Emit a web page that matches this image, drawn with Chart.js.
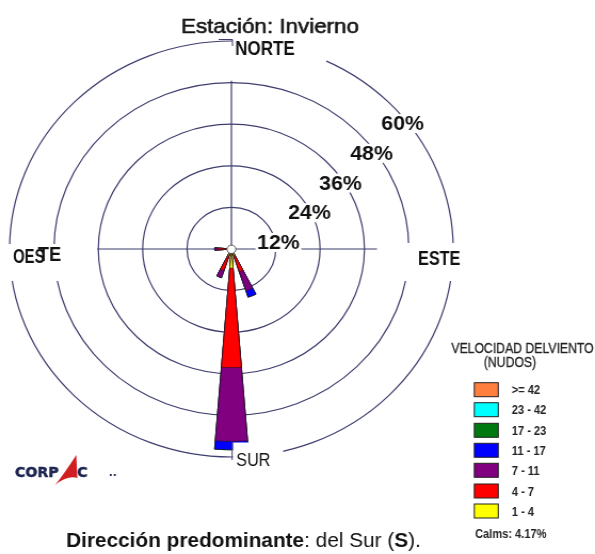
<!DOCTYPE html>
<html>
<head>
<meta charset="utf-8">
<script src="https://cdn.jsdelivr.net/npm/chart.js@4.4.1/dist/chart.umd.min.js"></script>
<style>
  html, body { margin: 0; padding: 0; background: #fff; overflow: hidden; }
  #lienzo { position: absolute; left: 0; top: 0; width: 558px; height: 554px;
            transform: scaleX(1.0663); transform-origin: 0 0; }
  canvas { display: block; }
</style>
</head>
<body>
<div id="lienzo"><canvas id="rosa" width="558" height="554"></canvas></div>
<script>
// Rosa de vientos - Estación: Invierno
const direcciones = ['N', 'NNE', 'NE', 'ENE', 'E', 'ESE', 'SE', 'SSE',
                     'S', 'SSW', 'SW', 'WSW', 'W', 'WNW', 'NW', 'NNW'];
const rangos  = ['1 - 4', '4 - 7', '7 - 11', '11 - 17', '17 - 23', '23 - 42', '>= 42'];
const colores = ['#ffff00', '#ff0000', '#800080', '#0000ff', '#007a10', '#00ffff', '#ff7f3f'];

// Frecuencia (%) por dirección para cada rango de velocidad (nudos)
const v1a4   = [0, 0, 0, 0, 0, 0, 0, 2.0, 5.5, 2.0, 0, 0, 0.8, 0, 0, 0];
const v4a7   = [0, 0, 0, 0, 0, 0, 0, 4.9, 28.7, 4.5, 0, 0, 2.8, 0, 0, 0];
const v7a11  = [0, 0, 0, 0, 0, 0, 0, 5.8, 21.3, 2.2, 0, 0, 0.9, 0, 0, 0];
const v11a17 = [0, 0, 0, 0, 0, 0, 0, 1.9, 2.4, 0, 0, 0, 0, 0, 0, 0];
const v17a23 = [0, 0, 0, 0, 0, 0, 0, 0, 0, 0, 0, 0, 0, 0, 0, 0];
const v23a42 = [0, 0, 0, 0, 0, 0, 0, 0, 0, 0, 0, 0, 0, 0, 0, 0];
const v42mas = [0, 0, 0, 0, 0, 0, 0, 0, 0, 0, 0, 0, 0, 0, 0, 0];

const anillos = [12, 24, 36, 48, 60];   // círculos de frecuencia (%)
const calmas = 4.17;

const bandas = [v1a4, v4a7, v7a11, v11a17, v17a23, v23a42, v42mas];

// Cada dirección ocupa un pétalo de 9° seguido de un hueco de 13.5°
const ANCHO_PETALO = 9;
const HUECO = 360 / direcciones.length - ANCHO_PETALO;
const etiquetas = [];
direcciones.forEach(d => { etiquetas.push(d); etiquetas.push(''); });

// Pétalos apilados: cada conjunto llega hasta la suma acumulada de su rango
let acumulado = direcciones.map(() => 0);
const conjuntos = bandas.map((serie, b) => {
  acumulado = acumulado.map((a, i) => a + serie[i]);
  const datos = [];
  acumulado.forEach(v => { datos.push(+v.toFixed(2)); datos.push(0); });
  return {
    label: rangos[b],
    data: datos,
    backgroundColor: colores[b],
    borderColor: 'rgba(20,20,20,0.75)',
    borderWidth: c => (c.raw > 0 ? 0.7 : 0),
    angle: c => (c.dataIndex % 2 === 0 ? ANCHO_PETALO : HUECO)
  };
});

const FUENTE = '"Liberation Sans", Arial, sans-serif';

function texto(ctx, str, x, y, o) {
  ctx.save();
  ctx.translate(x, y);
  ctx.scale(o.sx || 1, 1);
  ctx.font = `${o.weight || 'normal'} ${o.size}px ${o.family || FUENTE}`;
  ctx.fillStyle = o.color || '#111';
  ctx.textAlign = o.align || 'left';
  ctx.textBaseline = 'alphabetic';
  ctx.fillText(str, 0, 0);
  if (o.grosor) {
    ctx.lineWidth = o.grosor;
    ctx.strokeStyle = o.color || '#111';
    ctx.strokeText(str, 0, 0);
  }
  const w = ctx.measureText(str).width * (o.sx || 1);
  ctx.restore();
  return w;
}

const COLOR_REJILLA = '#3d3d6e';

const extrasRosa = {
  id: 'extrasRosa',
  beforeDatasetsDraw(chart) {
    const ctx = chart.ctx, s = chart.scales.r;
    const cx = s.xCenter, cy = s.yCenter;
    const d = v => s.getDistanceFromCenterForValue(v);
    ctx.save();
    ctx.strokeStyle = COLOR_REJILLA;
    ctx.lineWidth = 1.2;
    ctx.beginPath();
    ctx.moveTo(cx, cy - d(48.5)); ctx.lineTo(cx, cy + d(48));
    ctx.moveTo(cx - d(36.3), cy); ctx.lineTo(cx + d(39.4), cy);
    ctx.stroke();
    ctx.restore();
  },
  afterDraw(chart) {
    const ctx = chart.ctx, s = chart.scales.r;
    const cx = s.xCenter, cy = s.yCenter;
    const d = v => s.getDistanceFromCenterForValue(v);
    const R = d(60);
    ctx.save();

    // círculo central de calmas
    ctx.beginPath();
    ctx.arc(cx, cy + 0.3, 4.2, 0, Math.PI * 2);
    ctx.fillStyle = '#fff';
    ctx.fill();
    ctx.lineWidth = 1;
    ctx.strokeStyle = '#555';
    ctx.stroke();

    // fondos blancos de los rótulos cardinales
    ctx.fillStyle = '#fff';
    ctx.fillRect(cx + 1, cy - R - 3, 88, 24);          // NORTE
    ctx.fillRect(cx + 1.5, cy + R - 14.5, 47, 30);       // SUR
    ctx.fillRect(0, cy - 5, 66, 37);                    // OESTE
    ctx.fillRect(cx + 158, cy - 6, 66, 38);             // ESTE

    // marcas de los rótulos N y S
    ctx.strokeStyle = COLOR_REJILLA;
    ctx.lineWidth = 1;
    ctx.beginPath();
    ctx.moveTo(cx - 12, cy - R - 1.5); ctx.lineTo(cx + 1, cy - R - 1.5); ctx.lineTo(cx + 1, cy - R + 5);
    ctx.moveTo(cx + 0.7, cy + R - 15.5); ctx.lineTo(cx + 0.7, cy + R + 3);
    ctx.stroke();

    texto(ctx, 'NORTE', cx + 3.5, cy - R + 14, { size: 20, weight: 'bold', sx: 0.8 });
    texto(ctx, 'SUR', cx + 4.5, cy + R + 9, { size: 19, sx: 0.8 });
    texto(ctx, 'OES', 12.2, cy + 13.5, { size: 20, weight: 'bold', sx: 0.7 });
    texto(ctx, 'TE', 35.6, cy + 12, { size: 20, weight: 'bold', sx: 0.85 });
    texto(ctx, 'ESTE', cx + 175, cy + 16, { size: 20, weight: 'bold', sx: 0.76 });

    // rótulos de los círculos de frecuencia
    ctx.font = `bold 20px ${FUENTE}`;
    anillos.forEach(v => {
      const r = d(v);
      const x = cx + 0.6997 * r + 15.0;
      const y = cy - 0.7145 * r + 22.7;
      const str = v + '%';
      const w = ctx.measureText(str).width;
      ctx.fillStyle = '#fff';
      ctx.fillRect(x - w / 2 - 1.5, y - 9, w + 3, 19);
      texto(ctx, str, x, y + 7.2, { size: 20, weight: 'bold', align: 'center' });
    });

    // título
    texto(ctx, 'Estación: Invierno', 253.2, 32.8, { size: 21, align: 'center', color: '#161616', grosor: 0.6 });

    // leyenda
    texto(ctx, 'VELOCIDAD DELVIENTO', 490, 352.7, { size: 14, align: 'center', sx: 0.82, color: '#222', grosor: 0.3 });
    texto(ctx, '(NUDOS)', 478.3, 366.5, { size: 14, align: 'center', sx: 0.82, color: '#222', grosor: 0.3 });
    const filas = [382.7, 402.7, 423.3, 443.3, 463.3, 484, 504];
    for (let i = 0; i < rangos.length; i++) {
      const b = rangos.length - 1 - i;
      const y = filas[i];
      ctx.fillStyle = colores[b];
      ctx.fillRect(444.8, y, 22.5, 14);
      ctx.strokeStyle = '#222';
      ctx.lineWidth = 1;
      ctx.strokeRect(444.8, y, 22.5, 14);
      texto(ctx, rangos[b], 480, y + 11.7, { size: 13, weight: 'bold', sx: 0.8, color: '#222' });
    }
    texto(ctx, 'Calms: ' + calmas.toFixed(2) + '%', 445.5, 537.5, { size: 13, weight: 'bold', sx: 0.8, color: '#222' });

    // logotipo
    const navy = '#1c2550';
    texto(ctx, 'CORP', 14, 477, { size: 14, weight: 'bold', sx: 0.95, family: '"DejaVu Sans", sans-serif', color: navy, grosor: 0.5 });
    ctx.fillStyle = '#d01e22';
    ctx.beginPath();
    ctx.moveTo(71.5, 455);
    ctx.quadraticCurveTo(60, 474, 51.6, 485);
    ctx.quadraticCurveTo(62, 476, 70.5, 477.5);
    ctx.lineTo(72.5, 478);
    ctx.closePath();
    ctx.fill();
    texto(ctx, 'C', 72.2, 477, { size: 14, weight: 'bold', sx: 0.95, family: '"DejaVu Sans", sans-serif', color: navy, grosor: 0.5 });
    texto(ctx, '..', 102, 476, { size: 10, weight: 'bold', family: '"DejaVu Sans", sans-serif', color: navy });

    // dirección predominante
    let x = 62;
    const yb = 546.7;
    x += texto(ctx, 'Dirección predominante', x, yb, { size: 19.5, weight: 'bold', color: '#111' });
    x += texto(ctx, ': del Sur (', x, yb, { size: 19.5, color: '#111' });
    x += texto(ctx, 'S', x, yb, { size: 19.5, weight: 'bold', color: '#111' });
    texto(ctx, ').', x, yb, { size: 19.5, color: '#111' });

    ctx.restore();
  }
};

new Chart(document.getElementById('rosa'), {
  type: 'polarArea',
  data: { labels: etiquetas, datasets: conjuntos },
  options: {
    responsive: false,
    animation: false,
    devicePixelRatio: 1,
    layout: { padding: { left: 9, right: 133, top: 41, bottom: 97 } },
    plugins: { legend: { display: false }, tooltip: { enabled: false } },
    scales: {
      r: {
        min: 0,
        max: 60,
        startAngle: -ANCHO_PETALO / 2,
        ticks: { display: false, stepSize: 12 },
        grid: { circular: true, color: COLOR_REJILLA, lineWidth: 1.2 },
        angleLines: { display: false },
        pointLabels: { display: false }
      }
    }
  },
  plugins: [extrasRosa]
});
</script>
</body>
</html>
